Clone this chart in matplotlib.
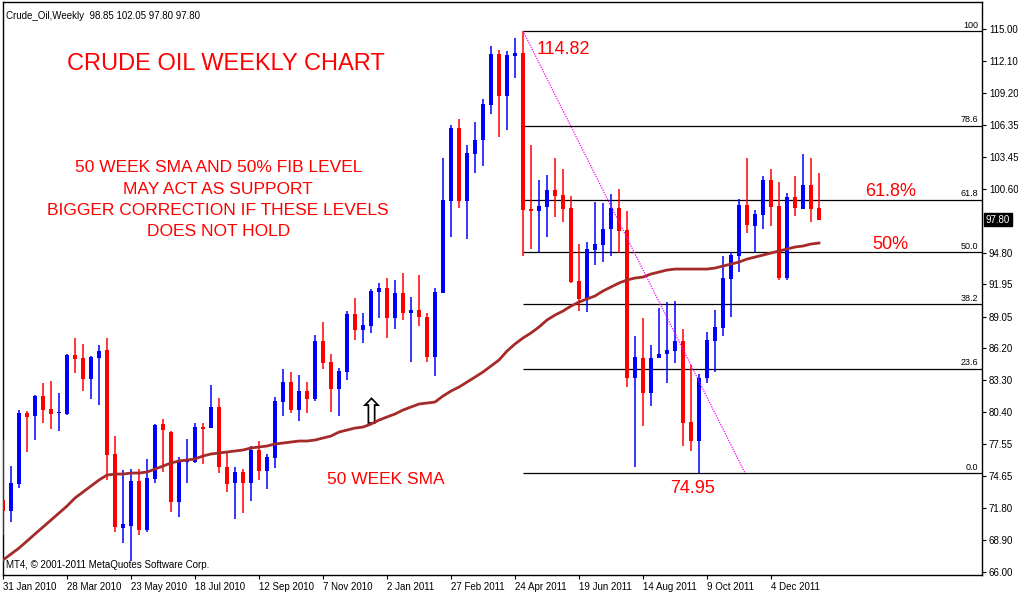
import matplotlib
matplotlib.use('Agg')
import matplotlib.pyplot as plt
import matplotlib.transforms as mtransforms
import numpy as np

# weekly bars, first one is the week of 31 Jan 2010
opens = [72.50, 71.50, 73.94, 80.35, 80.08, 81.88, 80.71, 80.35, 80.26, 85.58,
         85.31, 83.41, 85.31, 86.03, 76.65, 69.97, 70.15, 74.21, 69.79, 74.39,
         79.35, 78.63, 72.31, 75.93, 75.93, 79.08, 78.99, 80.89, 75.47, 74.03,
         75.02, 74.03, 77.01, 75.11, 76.29, 81.34, 83.14, 80.62, 82.33, 81.61,
         86.84, 84.95, 82.51, 84.05, 89.28, 87.84, 88.20, 91.27, 91.63, 88.92,
         91.18, 89.37, 89.64, 89.01, 85.40, 91.18, 99.48, 106.07, 99.48, 103.72,
         104.98, 108.14, 112.75, 108.96, 112.57, 112.84, 98.76, 98.58, 98.94, 100.47,
         100.02, 98.85, 92.26, 90.64, 95.06, 95.51, 96.95, 98.85, 96.86, 83.50,
         85.31, 82.15, 85.31, 85.67, 85.94, 86.84, 79.53, 77.82, 83.50, 86.84,
         88.02, 92.44, 94.52, 99.12, 97.22, 98.22, 101.37, 99.03, 92.53, 99.84,
         98.76, 100.92, 98.85]
highs = [77.91, 75.56, 80.62, 80.53, 81.97, 83.05, 83.23, 82.15, 85.67, 87.12,
         86.58, 85.49, 86.49, 87.12, 78.27, 75.20, 75.29, 75.29, 76.20, 79.35,
         79.81, 78.72, 76.38, 78.00, 79.44, 79.44, 82.87, 81.70, 76.83, 75.47,
         75.29, 77.37, 77.82, 76.65, 81.79, 84.32, 84.05, 83.78, 83.14, 87.39,
         88.56, 85.67, 84.41, 89.55, 90.73, 89.37, 91.54, 92.08, 92.53, 92.35,
         92.98, 90.82, 92.80, 89.37, 91.63, 103.36, 106.34, 106.88, 104.53, 106.61,
         108.68, 113.47, 113.11, 113.02, 114.19, 114.82, 104.53, 101.37, 101.83, 103.36,
         102.37, 99.93, 95.60, 95.78, 99.39, 99.30, 100.11, 100.56, 98.58, 87.30,
         88.92, 86.49, 89.82, 90.36, 90.45, 87.93, 84.68, 83.87, 87.66, 89.64,
         94.52, 94.87, 99.66, 103.36, 98.67, 101.73, 102.37, 101.19, 100.20, 101.73,
         103.72, 103.36, 102.05]
lows = [69.34, 70.51, 73.58, 76.83, 77.91, 79.44, 78.90, 78.72, 80.17, 83.96,
        82.33, 81.61, 81.07, 74.30, 69.61, 68.62, 66.99, 69.34, 69.61, 74.03,
        75.02, 71.41, 70.96, 74.03, 75.84, 75.75, 78.99, 74.93, 73.22, 70.78,
        71.32, 72.40, 74.30, 73.49, 75.38, 80.08, 80.35, 79.62, 80.35, 81.43,
        84.32, 80.44, 80.08, 83.32, 86.93, 86.66, 87.57, 88.92, 87.12, 87.93,
        88.74, 84.95, 88.20, 84.95, 83.69, 91.18, 96.23, 98.85, 96.05, 102.01,
        102.64, 107.33, 105.26, 105.89, 110.58, 94.52, 95.15, 94.87, 96.23, 98.04,
        97.58, 92.10, 89.55, 89.46, 93.70, 93.97, 94.52, 94.79, 82.69, 75.47,
        79.17, 80.98, 85.31, 83.05, 84.86, 77.37, 76.92, 74.95, 83.05, 84.05,
        87.30, 89.01, 93.07, 96.59, 94.87, 96.95, 97.22, 92.35, 92.35, 98.13,
        98.76, 97.58, 97.80]
closes = [71.50, 74.03, 80.35, 79.99, 81.88, 80.62, 80.26, 80.44, 85.58, 85.22,
          83.41, 85.40, 85.94, 76.56, 70.06, 70.33, 74.21, 69.79, 74.48, 79.26,
          78.81, 72.31, 76.02, 76.02, 79.08, 78.90, 80.89, 75.47, 73.94, 75.02,
          74.03, 77.01, 75.11, 76.38, 81.43, 83.14, 80.62, 82.33, 81.61, 86.84,
          84.86, 82.51, 84.14, 89.28, 87.84, 88.29, 91.36, 91.63, 88.92, 91.18,
          89.37, 89.64, 89.01, 85.40, 91.27, 99.57, 106.07, 99.48, 103.81, 104.98,
          108.23, 112.75, 108.96, 112.66, 112.84, 98.67, 98.58, 99.03, 100.47, 99.93,
          98.76, 92.17, 90.64, 95.15, 95.60, 96.95, 98.85, 96.77, 83.50, 85.40,
          82.15, 85.31, 85.67, 86.03, 86.84, 79.44, 77.82, 83.50, 86.93, 88.11,
          92.53, 94.60, 99.12, 97.31, 98.31, 101.37, 98.94, 92.53, 99.84, 98.85,
          100.92, 98.76, 97.80]
sma50 = [67.08, 67.62, 68.16, 68.79, 69.43, 70.06, 70.69, 71.32, 71.95, 72.68,
         73.22, 73.76, 74.30, 74.75, 74.84, 74.84, 74.93, 74.93, 75.02, 75.29,
         75.56, 75.84, 76.02, 76.11, 76.20, 76.47, 76.65, 76.74, 76.83, 76.92,
         77.01, 77.19, 77.28, 77.37, 77.55, 77.64, 77.73, 77.82, 77.82, 77.91,
         78.09, 78.27, 78.63, 78.81, 78.99, 79.08, 79.35, 79.71, 79.99, 80.26,
         80.62, 80.89, 81.16, 81.25, 81.34, 81.88, 82.33, 82.69, 83.14, 83.59,
         84.05, 84.59, 85.13, 85.94, 86.58, 87.12, 87.57, 88.11, 88.74, 89.19,
         89.55, 90.00, 90.36, 90.64, 90.91, 91.36, 91.72, 92.08, 92.35, 92.53,
         92.62, 92.89, 93.07, 93.25, 93.34, 93.34, 93.34, 93.34, 93.34, 93.43,
         93.61, 93.79, 93.97, 94.24, 94.42, 94.60, 94.79, 94.97, 95.15, 95.33,
         95.42, 95.60, 95.69]

date_labels = ['31 Jan 2010', '28 Mar 2010', '23 May 2010', '18 Jul 2010',
               '12 Sep 2010', '7 Nov 2010', '2 Jan 2011', '27 Feb 2011',
               '24 Apr 2011', '19 Jun 2011', '14 Aug 2011', '9 Oct 2011',
               '4 Dec 2011']
price_ticks = [115.00, 112.10, 109.20, 106.35, 103.45, 100.60, 94.80, 91.95,
               89.05, 86.20, 83.30, 80.40, 77.55, 74.65, 71.80, 68.90, 66.00]

fib_high = 114.82
fib_low = 74.95
fib_pcts = [100, 78.6, 61.8, 50.0, 38.2, 23.6, 0.0]
fib_start_bar = 65
trend_bars = [65, 92.75]
trend_prices = [114.82, 74.95]
last_price = 97.80

RED = '#ff0000'
BLUE = '#0000ff'
TXT = 'Liberation Sans'

fig = plt.figure(figsize=(10.18, 5.92), dpi=100)
ax = fig.add_axes([3 / 1018, 17 / 592, 979 / 1018, 573 / 592])

o = np.array(opens)
h = np.array(highs)
l = np.array(lows)
c = np.array(closes)
x = np.arange(len(o))
colors = [BLUE if cc >= oo else RED for oo, cc in zip(o, c)]

ax.vlines(x, l, h, colors=colors, linewidth=1.1, zorder=3)
body_lo = np.minimum(o, c)
body_h = np.maximum(np.abs(c - o), 0.12)
ax.bar(x, body_h, bottom=body_lo, width=0.62, color=colors,
       linewidth=0, zorder=4)

ax.plot(x, sma50, color='#a52a2a', linewidth=2.0, zorder=5)

# fibonacci retracement
for pct in fib_pcts:
    lvl = fib_low + (fib_high - fib_low) * pct / 100
    ax.hlines(lvl, fib_start_bar, 122.4, colors='black', linewidth=0.9,
              zorder=2)
    lab = '100' if pct == 100 else f'{pct:.1f}'
    ax.text(121.9, lvl + 0.12, lab, ha='right', va='bottom',
            fontsize=6.5, family=TXT, color='black')
ax.plot(trend_bars, trend_prices, color='#ff00ff', linewidth=0.9,
        linestyle=(0, (1, 1)), zorder=6)

ax.set_xlim(0, 122.375)
ax.set_ylim(65.73, 117.44)

ax.set_xticks(np.arange(len(date_labels)) * 8)
ax.set_xticklabels(date_labels, ha='left')
ax.yaxis.tick_right()
ax.set_yticks(price_ticks)
ax.set_yticklabels([f'{v:.2f}' for v in price_ticks])
ax.tick_params(axis='both', direction='out', length=3, width=0.8,
               labelsize=7, pad=2)
for t in ax.get_xticklabels() + ax.get_yticklabels():
    t.set_family(TXT)
for sp in ax.spines.values():
    sp.set_linewidth(1.0)

# current price box
tr = mtransforms.blended_transform_factory(ax.transAxes, ax.transData)
ax.text(1.004, last_price, f'{last_price:.2f}', transform=tr, ha='left',
        va='center', fontsize=7, family=TXT, color='white',
        bbox=dict(boxstyle='square,pad=0.15', fc='black', ec='black'))

ax.text(0.003, 0.985, 'Crude_Oil,Weekly  98.85 102.05 97.80 97.80',
        transform=ax.transAxes, ha='left', va='top', fontsize=7, family=TXT)
ax.text(0.003, 0.008, 'MT4, \u00a9 2001-2011 MetaQuotes Software Corp.',
        transform=ax.transAxes, ha='left', va='bottom', fontsize=7, family=TXT)

ax.text(27.9, 111.84, 'CRUDE OIL WEEKLY CHART', ha='center', va='center',
        fontsize=17, family=TXT, color=RED)
notes = ['50 WEEK SMA AND 50% FIB LEVEL', 'MAY ACT AS SUPPORT',
         'BIGGER CORRECTION IF THESE LEVELS', 'DOES NOT HOLD']
for txt, yv in zip(notes, [102.46, 100.56, 98.58, 96.77]):
    ax.text(26.9, yv, txt, ha='center', va='center', fontsize=12.5,
            family=TXT, color=RED)
ax.text(66.75, 113.11, '114.82', ha='left', va='center', fontsize=13,
        family=TXT, color=RED)
ax.text(110.9, 100.38, '61.8%', ha='center', va='center', fontsize=13,
        family=TXT, color=RED)
ax.text(110.9, 95.60, '50%', ha='center', va='center', fontsize=13,
        family=TXT, color=RED)
ax.text(86.25, 73.58, '74.95', ha='center', va='center', fontsize=13,
        family=TXT, color=RED)
ax.text(47.9, 74.39, '50 WEEK SMA', ha='center', va='center', fontsize=12.5,
        family=TXT, color=RED)
ax.text(46, 80.3, '\u21e7', ha='center', va='center', fontsize=25,
        family='DejaVu Sans', color='black')

fig.savefig('out.png', dpi=100)
